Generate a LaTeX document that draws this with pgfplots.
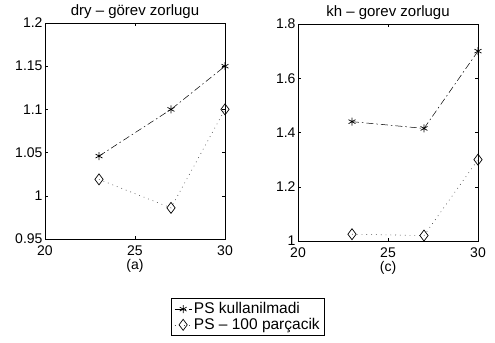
\documentclass[border=0pt]{standalone}
\usepackage{fontspec}
\setmainfont{Liberation Sans}
\usepackage{pgfplots}
\pgfplotsset{compat=1.18}
\begin{document}
\begin{tikzpicture}
\path[use as bounding box] (0,0) rectangle (495bp,-343bp);
\pgfplotsset{
  mystyle/.style={
    scale only axis,
    width=180bp,
    xmin=20, xmax=30,
    xtick={20,25,30},
    tick align=inside,
    major tick length=3bp,
    /pgf/number format/assume math mode=true,
    every tick label/.append style={font=\fontsize{14bp}{16bp}\selectfont},
    xticklabel style={yshift=-3bp},
    yticklabel style={xshift=1bp},
    title style={font=\fontsize{15bp}{17bp}\selectfont, yshift=-5bp},
    xlabel style={font=\fontsize{14bp}{16bp}\selectfont, yshift=3bp},
    axis line style={line width=0.8bp},
    every tick/.style={black, line width=0.5bp},
    legend style={font=\fontsize{15.5bp}{17bp}\selectfont, draw=black, line width=0.8bp, cells={anchor=west}, row sep=-1bp},
  },
  starline/.style={black, line width=0.5bp, dash pattern=on 7bp off 3bp on 1.5bp off 3bp, mark=asterisk, mark size=4bp, mark options={solid, line width=0.7bp}},
  diamline/.style={black!70, line width=0.6bp, dash pattern=on 0.8bp off 4bp, mark=diamond, mark size=5.5bp, mark options={solid, black, line width=0.7bp}},
}
\begin{axis}[mystyle,
  at={(45bp,-23bp)}, anchor=north west,
  height=216bp,
  ymin=0.95, ymax=1.2,
  ytick={0.95,1,1.05,1.1,1.15,1.2},
  title={dry -- görev zorlugu},
  xlabel={(a)},
  legend style={at={(1.128,-0.361)}, anchor=center},
]
\addplot[starline] coordinates {(23,1.046) (27,1.1) (30,1.15)};
\addlegendentry{PS kullanilmadi}
\addplot[diamline] coordinates {(23,1.019) (27,0.986) (30,1.1)};
\addlegendentry{PS -- 100 parçacik}
\end{axis}
\begin{axis}[mystyle,
  at={(298bp,-24bp)}, anchor=north west,
  height=217bp,
  ymin=1, ymax=1.8,
  ytick={1,1.2,1.4,1.6,1.8},
  title={kh -- gorev zorlugu},
  xlabel={(c)},
]
\addplot[starline] coordinates {(23,1.44) (27,1.415) (30,1.7)};
\addplot[diamline] coordinates {(23,1.025) (27,1.02) (30,1.3)};
\end{axis}
\end{tikzpicture}
\end{document}
